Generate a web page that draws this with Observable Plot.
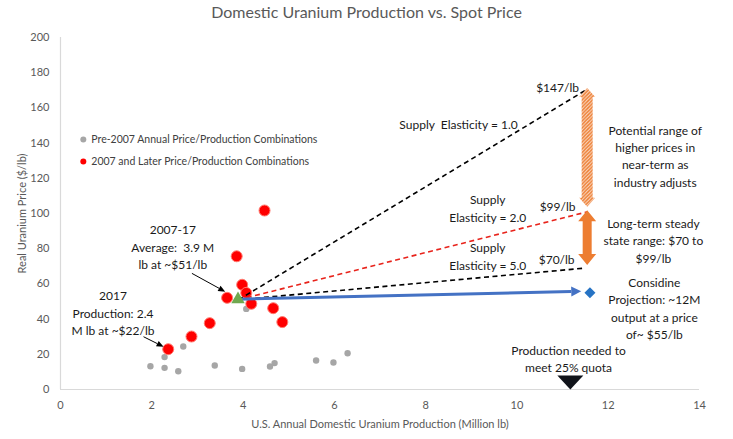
<!DOCTYPE html>
<html><head><meta charset="utf-8">
<script src="https://cdn.jsdelivr.net/npm/d3@7"></script>
<script src="https://cdn.jsdelivr.net/npm/@observablehq/plot@0.6"></script>
<style>
body{margin:0;background:#fff;font-family:Lato,"Open Sans",sans-serif;}
#title{height:24px;line-height:24px;text-align:center;font-size:16px;color:#595959;}
</style></head><body>
<div id="title">Domestic Uranium Production vs. Spot Price</div>
<div id="chart"></div>
<script>
// Pre-2007 annual price / production combinations
const preProd  = [1.97, 2.28, 2.28, 2.58, 2.69, 3.38, 3.98, 4.07, 4.59, 4.69, 5.60, 5.98, 6.29];
const prePrice = [13.2, 18.4, 12.3, 10.4, 24.4, 13.6, 11.7, 45.8, 13.1, 15.0, 16.5, 15.3, 20.6];
// 2007 and later
const postProd  = [2.36, 2.87, 3.27, 3.65, 3.86, 3.98, 4.07, 4.18, 4.47, 4.66, 4.86];
const postPrice = [22.9, 30.1, 37.7, 52.1, 75.7, 59.5, 54.9, 48.7, 101.7, 46.2, 38.3];
// 2007-17 average
const avgProd = 3.9, avgPrice = 51;
// supply elasticity projections
const elasticity = ["1.0", "2.0", "5.0"];
const elasticEndProd = [11.5, 11.55, 11.5];
const elasticEndPrice = [170, 101, 69];
const elasticColor = ["#000000", "#e8231b", "#000000"];
// Considine projection
const considineProd = 11.6, considinePrice = 55;
const blueArrowEndProd = 11.42, blueArrowEndPrice = 55.5;
// quota
const quotaProd = 11.17, quotaPrice = 4;
// price ranges
const rangeProd = 11.55;
const nearTermRange = [103.5, 171];
const steadyRange = [70.5, 101.5];
// ticks
const xTicks = [0, 2, 4, 6, 8, 10, 12, 14];
const yTicks = [0, 20, 40, 60, 80, 100, 120, 140, 160, 180, 200];

const pre = preProd.map((x, i) => ({x, y: prePrice[i]}));
const post = postProd.map((x, i) => ({x, y: postPrice[i]}));
const elastic = elasticity.map((e, i) => ({e, x1: avgProd, y1: avgPrice, x2: elasticEndProd[i], y2: elasticEndPrice[i], c: elasticColor[i]}));

const notes = [
  {x: 2.46, y: 81.4, t: "2007-17\nAverage:  3.9 M\nlb at ~$51/lb"},
  {x: 1.15, y: 44.0, t: "2017\nProduction: 2.4\nM lb at ~$22/lb"},
  {x: 8.72, y: 151, t: "Supply  Elasticity = 1.0"},
  {x: 10.89, y: 172, t: "$147/lb"},
  {x: 13.03, y: 133.2, t: "Potential range of\nhigher prices in\nnear-term as\nindustry adjusts"},
  {x: 9.36, y: 103.4, t: "Supply\nElasticity = 2.0"},
  {x: 10.89, y: 104.5, t: "$99/lb"},
  {x: 12.99, y: 85.2, t: "Long-term steady\nstate range: $70 to\n$99/lb"},
  {x: 9.36, y: 76.1, t: "Supply\nElasticity = 5.0"},
  {x: 10.87, y: 74.4, t: "$70/lb"},
  {x: 13.01, y: 46.6, t: "Considine\nProjection: ~12M\noutput at a price\nof~ $55/lb"},
  {x: 11.13, y: 17.8, t: "Production needed to\nmeet 25% quota"}
];
const legend = [
  {x: 0.5, y: 142, c: "#a6a6a6", t: "Pre-2007 Annual Price/Production Combinations"},
  {x: 0.5, y: 129.5, c: "#ff0000", t: "2007 and Later Price/Production Combinations"}
];
const pointers = [
  {x1: 2.89, y1: 65.7, x2: 3.62, y2: 55.3},
  {x1: 1.83, y1: 29.7, x2: 2.27, y2: 24.0}
];

// flat downward-pointing triangle symbol
const flatDown = {
  draw(ctx, size) {
    const k = Math.sqrt(size / Math.PI);
    ctx.moveTo(-k, -0.54 * k);
    ctx.lineTo(k, -0.54 * k);
    ctx.lineTo(0, 0.54 * k);
    ctx.closePath();
  }
};

const chart = Plot.plot({
  width: 733, height: 415,
  marginTop: 13, marginBottom: 50, marginLeft: 60, marginRight: 34,
  style: {fontFamily: "Lato, 'Open Sans', sans-serif", fontSize: "11px", color: "#595959", background: "white"},
  x: {domain: [0, 14], ticks: xTicks, tickSize: 0, tickPadding: 12, label: "U.S. Annual Domestic Uranium Production (Million lb)", labelAnchor: "center", labelOffset: 38, labelArrow: false},
  y: {domain: [0, 200], ticks: yTicks, tickSize: 0, tickPadding: 11, label: "Real Uranium Price ($/lb)", labelAnchor: "center", labelOffset: 42, labelArrow: false},
  marks: [
    Plot.ruleY([0], {stroke: "#d9d9d9", strokeWidth: 1.2}),
    Plot.ruleX([0], {stroke: "#d9d9d9", strokeWidth: 1.2}),
    Plot.dot(legend, {x: "x", y: "y", fill: "c", r: 3}),
    Plot.text(legend, {x: "x", y: "y", text: "t", dx: 8, textAnchor: "start", fill: "#404040", fontSize: 10.5}),
    Plot.dot(pre, {x: "x", y: "y", fill: "#a6a6a6", r: 3.2}),
    Plot.dot(post, {x: "x", y: "y", fill: "#ff0000", stroke: "#ff7b70", strokeWidth: 1, r: 5.5}),
    Plot.link(elastic, {x1: "x1", y1: "y1", x2: "x2", y2: "y2", stroke: "c", strokeWidth: 1.6, strokeDasharray: "5,3.5"}),
    Plot.dot([{x: considineProd, y: considinePrice}], {x: "x", y: "y", symbol: "square", rotate: 45, fill: "#2673c4", r: 4.4}),
    Plot.dot([{x: quotaProd, y: quotaPrice}], {x: "x", y: "y", symbol: flatDown, fill: "#10131a", r: 13}),
    Plot.text(notes, {x: "x", y: "y", text: "t", fill: "#1a1a1a", fontSize: 12, lineHeight: 1.45})
  ]
});
document.getElementById("chart").appendChild(chart);

const svgEl = chart.tagName.toLowerCase() === "svg" ? chart : chart.querySelector("svg");
const xs = chart.scale("x"), ys = chart.scale("y");
const X = d3.scaleLinear(xs.domain, xs.range), Y = d3.scaleLinear(ys.domain, ys.range);
const svg = d3.select(svgEl);
const defs = svg.append("defs");
const pat = defs.append("pattern").attr("id", "hatch").attr("patternUnits", "userSpaceOnUse").attr("width", 3.5).attr("height", 3.5);
pat.append("rect").attr("width", 3.5).attr("height", 3.5).attr("fill", "#fbe3d3");
pat.append("path").attr("d", "M-1,1 l2,-2 M0,3.5 l3.5,-3.5 M2.5,4.5 l2,-2").attr("stroke", "#ed7d31").attr("stroke-width", 1.5);

function dblArrow(x, y0, y1, shaftW, headW, headL, fill) {
  const cx = X(x), top = Y(y1), bot = Y(y0);
  const p = [[cx, top], [cx + headW / 2, top + headL], [cx + shaftW / 2, top + headL], [cx + shaftW / 2, bot - headL],
    [cx + headW / 2, bot - headL], [cx, bot], [cx - headW / 2, bot - headL], [cx - shaftW / 2, bot - headL],
    [cx - shaftW / 2, top + headL], [cx - headW / 2, top + headL]];
  svg.append("polygon").attr("points", p.map(d => d.join(",")).join(" ")).attr("fill", fill);
}
dblArrow(rangeProd, nearTermRange[0], nearTermRange[1], 11, 16, 9, "url(#hatch)");
dblArrow(rangeProd, steadyRange[0], steadyRange[1], 9, 18, 11, "#ed7d31");

function arrow(x1, y1, x2, y2, color, sw, headL, headW) {
  const a = [X(x1), Y(y1)], b = [X(x2), Y(y2)];
  const dx = b[0] - a[0], dy = b[1] - a[1], L = Math.hypot(dx, dy), ux = dx / L, uy = dy / L;
  const base = [b[0] - ux * headL, b[1] - uy * headL];
  svg.append("line").attr("x1", a[0]).attr("y1", a[1]).attr("x2", base[0]).attr("y2", base[1])
    .attr("stroke", color).attr("stroke-width", sw);
  const p = [b, [base[0] - uy * headW / 2, base[1] + ux * headW / 2], [base[0] + uy * headW / 2, base[1] - ux * headW / 2]];
  svg.append("polygon").attr("points", p.map(d => d.join(",")).join(" ")).attr("fill", color);
}
arrow(avgProd, avgPrice, blueArrowEndProd, blueArrowEndPrice, "#4472c4", 3, 10, 10);
pointers.forEach(d => arrow(d.x1, d.y1, d.x2, d.y2, "#000", 1, 7, 6));
// average marker drawn last, on top of the arrows, through the plot's scales
const tri = d3.symbol(d3.symbolTriangle, Math.PI * 5 * 5)();
svg.append("path").attr("d", tri).attr("transform", `translate(${X(avgProd)},${Y(avgPrice)})`).attr("fill", "#70a84f");
</script>
</body></html>
